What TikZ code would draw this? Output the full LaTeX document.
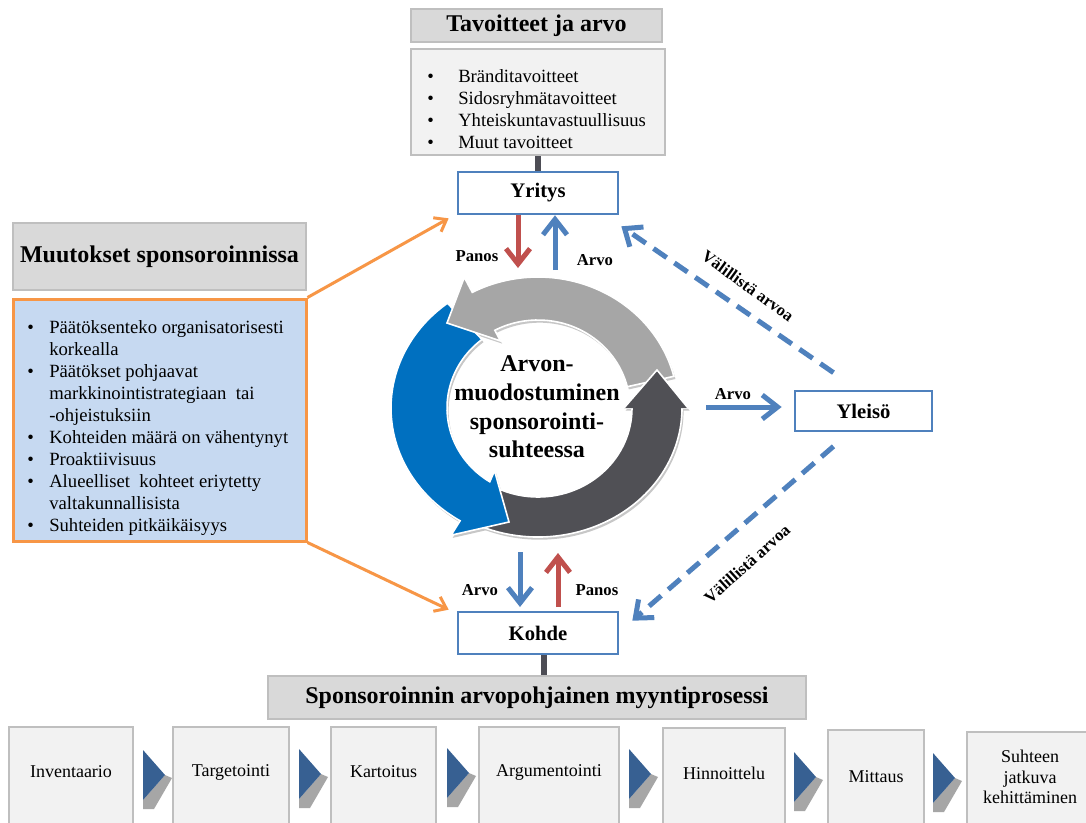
\documentclass[tikz,border=0pt]{standalone}
\usepackage{fontspec}
\setmainfont{Liberation Serif}
\usetikzlibrary{arrows.meta,calc}

\definecolor{titlefill}{HTML}{D9D9D9}
\definecolor{panelfill}{HTML}{F2F2F2}
\definecolor{panelline}{HTML}{BFBFBF}
\definecolor{accblue}{HTML}{4F81BD}
\definecolor{accred}{HTML}{C0504D}
\definecolor{accorange}{HTML}{F79646}
\definecolor{listblue}{HTML}{C6D9F1}
\definecolor{cycgray}{HTML}{A6A6A6}
\definecolor{cycblue}{HTML}{0070C0}
\definecolor{cycdark}{HTML}{505055}
\definecolor{chevblue}{HTML}{376092}
\definecolor{stemgray}{HTML}{4D4D55}

\newcommand\bulletfont{\fontsize{14pt}{16.5pt}\selectfont}

\begin{document}
\begin{tikzpicture}[x=0.75pt,y=-0.75pt,
  titlebox/.style={draw=panelline,line width=0.9pt,fill=titlefill,inner sep=0pt,
    font=\fontsize{18pt}{21pt}\selectfont\bfseries},
  panel/.style={draw=panelline,line width=2pt,fill=panelfill,inner sep=0pt},
  actor/.style={draw=accblue,line width=2pt,fill=white,inner sep=0pt,
    minimum width=120pt,minimum height=31.5pt,font=\fontsize{15.5pt}{18pt}\selectfont\bfseries},
  procbox/.style={draw=panelline,line width=1.4pt,fill=panelfill},
  proctext/.style={font=\fontsize{13.5pt}{15.4pt}\selectfont,align=center,inner sep=0pt},
  lab/.style={font=\fontsize{12.5pt}{15pt}\selectfont\bfseries,inner sep=0pt},
  stem/.style={draw=stemgray,line width=4.5pt},
  flowred/.style={draw=accred,line width=3.75pt,-{Straight Barb[length=11.5pt,width=18pt]}},
  flowblue/.style={draw=accblue,line width=3.75pt,-{Straight Barb[length=11.5pt,width=18pt]}},
  indirect/.style={draw=accblue,line width=3.75pt,dash pattern=on 12pt off 7pt,
    -{Straight Barb[length=11pt,width=18pt]}},
  feed/.style={draw=accorange,line width=2.25pt,-{Straight Barb[length=8pt,width=12pt]}},
  cycedge/.style={draw=white,line width=1.2pt,line join=miter},
  cycshade/.style={fill=black!22,transform canvas={xshift=1.2pt,yshift=-2pt}},
  chev/.style={fill=chevblue},
  chevside/.style={fill=cycgray},
  darkarrow/.style={insert path={
    ($(cc)+(116:144 and 129)$) arc[start angle=116,end angle=0,x radius=144,y radius=129]
    -- ($(cc)+(150,0)$) -- ($(cc)+(119,-38)$) -- ($(cc)+(86,0)$) -- ($(cc)+(94,0)$)
    arc[start angle=0,end angle=116,x radius=94,y radius=89] -- cycle}},
  grayarrow/.style={insert path={
    ($(cc)+(-14:140 and 131)$) arc[start angle=-14,end angle=-118,x radius=140,y radius=131]
    -- ($(cc)+(-118:157 and 148)$) -- ($(cc)+(-91,-85)$) -- ($(cc)+(-118:80 and 76)$)
    -- ($(cc)+(-118:92 and 88)$)
    arc[start angle=-118,end angle=-14,x radius=92,y radius=88] -- cycle}},
  bluearrow/.style={insert path={
    ($(cc)+(-128:147 and 133)$) arc[start angle=-128,end angle=-238,x radius=147,y radius=133]
    -- ($(cc)+(-238:164 and 150)$) -- ($(cc)+(-29,114)$) -- ($(cc)+(-238:82 and 74)$)
    -- ($(cc)+(-238:91 and 87)$)
    arc[start angle=-238,end angle=-128,x radius=91,y radius=87] -- cycle}},
]
\useasboundingbox (0,0) rectangle (1086,822);
\clip (0,0) rectangle (1086,822);
\fill[white] (0,0) rectangle (1086,822);

% ---------- goals and company ----------
\node[titlebox,minimum width=188.25pt,minimum height=24.75pt] (goalstitle) at (536.5,25.5) {Tavoitteet ja arvo};
\node[panel,minimum width=190.5pt,minimum height=79.5pt] (goals) at (538,102) {};
\node[anchor=north west,inner sep=0pt] (goallist) at (427,66.6)
  {\bulletfont\begin{tabular}{@{}p{23.25pt}@{}l@{}}
   \textbullet & Bränditavoitteet\\
   \textbullet & Sidosryhmätavoitteet\\
   \textbullet & Yhteiskuntavastuullisuus\\
   \textbullet & Muut tavoitteet
  \end{tabular}};
\node[actor] (yritys) at (538,193) {Yritys};
\draw[stem] (goals) -- (yritys);

% ---------- changes panel ----------
\node[titlebox,minimum width=219.75pt,minimum height=50.25pt] (changestitle) at (159.5,256.5) {Muutokset sponsoroinnissa};
\node[draw=accorange,line width=2.25pt,fill=listblue,minimum width=219.75pt,minimum height=181.5pt,inner sep=0pt] (changes) at (159.5,420) {};
\node[anchor=north west,inner sep=0pt] (changeslist) at (27,317.5)
  {\bulletfont\begin{tabular}{@{}p{16.5pt}@{}l@{}}
   \textbullet & Päätöksenteko organisatorisesti\\
    & korkealla\\
   \textbullet & Päätökset pohjaavat\\
    & markkinointistrategiaan\ \ tai\\
    & -ohjeistuksiin\\
   \textbullet & Kohteiden määrä on vähentynyt\\
   \textbullet & Proaktiivisuus\\
   \textbullet & Alueelliset\ \ kohteet eriytetty\\
    & valtakunnallisista\\
   \textbullet & Suhteiden pitkäikäisyys
  \end{tabular}};

% ---------- value cycle ----------
\coordinate (cc) at (538,408);
\path[cycshade,darkarrow];
\path[cycshade,bluearrow];
\path[cycshade,grayarrow];
\path[fill=cycdark,cycedge,darkarrow];
\path[fill=cycblue,cycedge,bluearrow];
\path[fill=cycgray,cycedge,grayarrow];
% the dark head lies over the tail of the gray arrow
\fill[cycdark] ($(cc)+(150,0)$) -- ($(cc)+(119,-38)$) -- ($(cc)+(86,0)$) -- cycle;
\draw[cycedge] ($(cc)+(150,0)$) -- ($(cc)+(119,-38)$) -- ($(cc)+(86,0)$);
\node[font=\fontsize{18pt}{21.5pt}\selectfont\bfseries,align=center,inner sep=0pt] (core) at (537,407)
  {Arvon-\\muodostuminen\\sponsorointi-\\suhteessa};

% ---------- audience and target ----------
\node[actor,minimum width=102.75pt,minimum height=30pt] (yleiso) at (863.5,411) {Yleisö};
\node[actor] (kohde) at (538,633) {Kohde};

% ---------- sales process ----------
\node[titlebox,minimum width=403.5pt,minimum height=32.25pt] (proctitle) at (537,697.5) {Sponsoroinnin arvopohjainen myyntiprosessi};
\draw[stem] ($(kohde.south)+(6,0)$) -- ($(proctitle.north)+(7,0)$);

\foreach \i/\xa/\xb/\yt/\ty/\txt in {
  1/9/133/727/772/Inventaario,
  2/173/289/727/772/Targetointi,
  3/331/436/727/772/Kartoitus,
  4/479/619/727/772/Argumentointi,
  5/663/785/728/773/Hinnoittelu,
  6/828/924/730/777/Mittaus,
  7/967/1093/732/777/{Suhteen\\jatkuva\\kehittäminen}}{
  \draw[procbox] (\xa,\yt) rectangle (\xb,850);
  \node[proctext] (step\i) at ({(\xa+\xb)/2},\ty) {\txt};
}
\foreach \cx/\cy in {143/775,299/774,447/773,629/774,794/777,933/778}{
  \fill[chevside] (\cx,\cy+25) -- (\cx+22,\cy) -- (\cx+29,\cy+3) -- (\cx+11,\cy+34) -- (\cx,\cy+34) -- cycle;
  \fill[chev] (\cx,\cy-25) -- (\cx+22,\cy) -- (\cx,\cy+25) -- cycle;
}

% ---------- flows ----------
\coordinate (topIn) at (518,268);
\coordinate (topOut) at (555,270);
\coordinate (botOut) at (520,552);
\coordinate (botOutEnd) at (520,607);
\coordinate (botIn) at (558,553);
\coordinate (botInStart) at (558,607);
\coordinate (rightOut) at (706,407);

\draw[flowred] (yritys.south -| topIn) -- (topIn);
\draw[flowblue] (topOut) -- (yritys.south -| topOut);
\draw[flowblue] (botOut) -- (botOutEnd);
\draw[flowred] (botInStart) -- (botIn);
\draw[flowblue,shorten >=9pt] (rightOut) -- (yleiso.west |- rightOut);

\draw[indirect] ($(yleiso.north)+(-30,-17)$) -- ($(yritys.south east)+(2,11)$);
\draw[indirect] ($(yleiso.south)+(-30,14)$) -- ($(kohde.north east)+(13,10)$);

\draw[feed] (changes.north east) -- ($(yritys.south west)+(-8,3)$);
\draw[feed] (changes.south east) -- ($(kohde.north west)+(-8,-1)$);

\node[lab] (panosTop) at (477,256) {Panos};
\node[lab] (arvoTop) at (595,260) {Arvo};
\node[lab] (arvoBot) at (480,590) {Arvo};
\node[lab] (panosBot) at (597,590) {Panos};
\node[lab] (arvoRight) at (733,394) {Arvo};
\node[lab,rotate=-36] (indirectUp) at (748,286) {Välillistä arvoa};
\node[lab,rotate=42] (indirectDown) at (747,564) {Välillistä arvoa};
\end{tikzpicture}
\end{document}
